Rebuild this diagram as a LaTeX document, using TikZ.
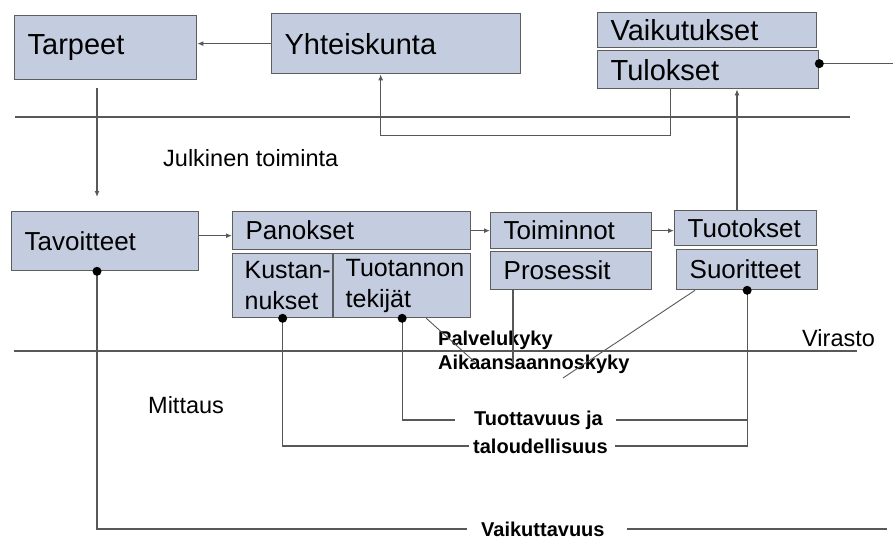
\documentclass[tikz,border=0pt]{standalone}
\usepackage{fontspec}
\setmainfont{Liberation Sans}
\usetikzlibrary{arrows.meta}
\definecolor{boxfill}{HTML}{C4CCDF}
\definecolor{boxedge}{HTML}{5E5E5E}
\definecolor{wirecol}{HTML}{585858}
\tikzset{
  box/.style={draw=boxedge, fill=boxfill, line width=1.3pt, anchor=north west,
    align=left, inner xsep=13pt, inner ysep=0pt, font=\fontsize{26}{30}\selectfont},
  bigbox/.style={box, font=\fontsize{29}{32}\selectfont},
  wire/.style={draw=wirecol, line width=1.3pt},
  thinwire/.style={draw=wirecol, line width=0.9pt},
  arr/.style={wire, -{Latex[length=6pt,width=5pt]}},
  meas/.style={font=\bfseries\fontsize{20}{22}\selectfont, inner sep=0pt, anchor=west},
  plain/.style={font=\fontsize{23.5}{26}\selectfont, inner sep=0pt, anchor=west},
  dot/.style={fill=black},
}
\begin{document}
\begin{tikzpicture}[x=1pt, y=-1pt]
  \useasboundingbox (0,0) rectangle (893,540);

  % Top row
  \node[bigbox, minimum width=182pt, minimum height=64pt, text width=156pt] (tarpeet) at (14,15) {Tarpeet};
  \node[bigbox, minimum width=249pt, minimum height=60pt, text width=223pt] (yhteis) at (271,13) {Yhteiskunta};
  \node[bigbox, minimum width=219pt, minimum height=35pt, text width=193pt] (vaiktus) at (597,12) {Vaikutukset};
  \node[bigbox, minimum width=221pt, minimum height=38pt, text width=195pt] (tulok) at (597,50) {Tulokset};

  % Middle row
  \node[box, minimum width=187pt, minimum height=59pt, text width=161pt] (tavoit) at (11,211) {Tavoitteet};
  \node[box, minimum width=238pt, minimum height=38pt, text width=212pt] (panok) at (232,211) {Panokset};
  \node[box, font=\fontsize{25}{31}\selectfont, inner xsep=12pt, minimum width=100pt, minimum height=64pt, text width=76pt] (kustan) at (232,253) {\mbox{Kustan-}\\nukset};
  \node[box, font=\fontsize{25}{31}\selectfont, inner xsep=12pt, minimum width=137pt, minimum height=64pt, text width=113pt] (tuotan) at (333,253) {\mbox{Tuotannon}\\tekijät};
  \node[box, minimum width=161pt, minimum height=36pt, text width=135pt] (toimin) at (490,212) {Toiminnot};
  \node[box, minimum width=161pt, minimum height=38pt, text width=135pt] (prosess) at (490,251) {Prosessit};
  \node[box, minimum width=142pt, minimum height=35pt, text width=116pt] (tuotok) at (674,210) {Tuotokset};
  \node[box, minimum width=141pt, minimum height=40pt, text width=115pt] (suorit) at (676,249) {Suoritteet};

  % Labels
  \node[plain] (julk) at (163,158) {Julkinen toiminta};
  \node[plain] (mitt) at (148,405) {Mittaus};
  \node[plain] (viras) at (802,338) {Virasto};
  \node[meas] (palv) at (438,340) {Palvelukyky};
  \node[meas] (aik) at (438,364) {Aikaansaannoskyky};
  \node[meas] (tuott) at (474,420) {Tuottavuus ja};
  \node[meas] (talous) at (473,446) {taloudellisuus};
  \node[meas] (vkt) at (481,529) {Vaikuttavuus};

  % Level lines
  \draw[wire] (15,117) -- (850,117);
  \draw[wire] (14,351) -- (857,351);

  \coordinate (mx) at (97,0);
  \coordinate (ux) at (737,0);
  \coordinate (pin) at ([yshift=-5pt]panok.west);
  \coordinate (pk) at ([xshift=23pt]prosess.south west);

  % Flow
  \draw[arr] (yhteis.west) -- (yhteis.west -| tarpeet.east);
  \draw[arr, shorten <=8pt, shorten >=14pt] (tarpeet.south -| mx) -- (tavoit.north -| mx);
  \draw[arr] (pin -| tavoit.east) -- (pin);
  \draw[arr] (panok.east) -- (panok.east -| toimin.west);
  \draw[arr] (toimin.east) -- (toimin.east -| tuotok.west);
  \draw[arr] (tuotok.north -| ux) -- (tulok.south -| ux);
  \draw[arr] ([xshift=-37.5pt]tulok.south) -- ++(0,46) -| ([xshift=-15.5pt]yhteis.south);

  % Measures
  \draw[wire] ([yshift=6pt]tulok.east) -- ++(75,0);
  \draw[wire] (tavoit.south -| mx) |- ([xshift=-14pt]vkt.west);
  \draw[wire] ([xshift=22pt]vkt.east) -- ++(260,0);
  \draw[wire] (kustan.south) |- ([xshift=-4pt]talous.west);
  \draw[wire] (tuotan.south) |- ([xshift=-19pt]tuott.west);
  \draw[wire] (suorit.south) |- ([xshift=7pt]talous.east);
  \draw[wire] ([xshift=13pt]tuott.east) -- (tuott.east -| suorit.south);
  \draw[wire] (pk) -- (pk |- aik.west);
  \draw[thinwire] ([xshift=-45pt]tuotan.south east) -- ([xshift=39pt]aik.west);
  \draw[thinwire] ([xshift=19pt]suorit.south west) -- ([shift={(125,14)}]aik.west);

  % Dots
  \foreach \p in {tavoit.south -| mx, kustan.south, tuotan.south, suorit.south} {
    \fill[dot] (\p) circle (4.5pt);
  }
  \fill[dot] ([yshift=6pt]tulok.east) circle (4.5pt);
\end{tikzpicture}
\end{document}
